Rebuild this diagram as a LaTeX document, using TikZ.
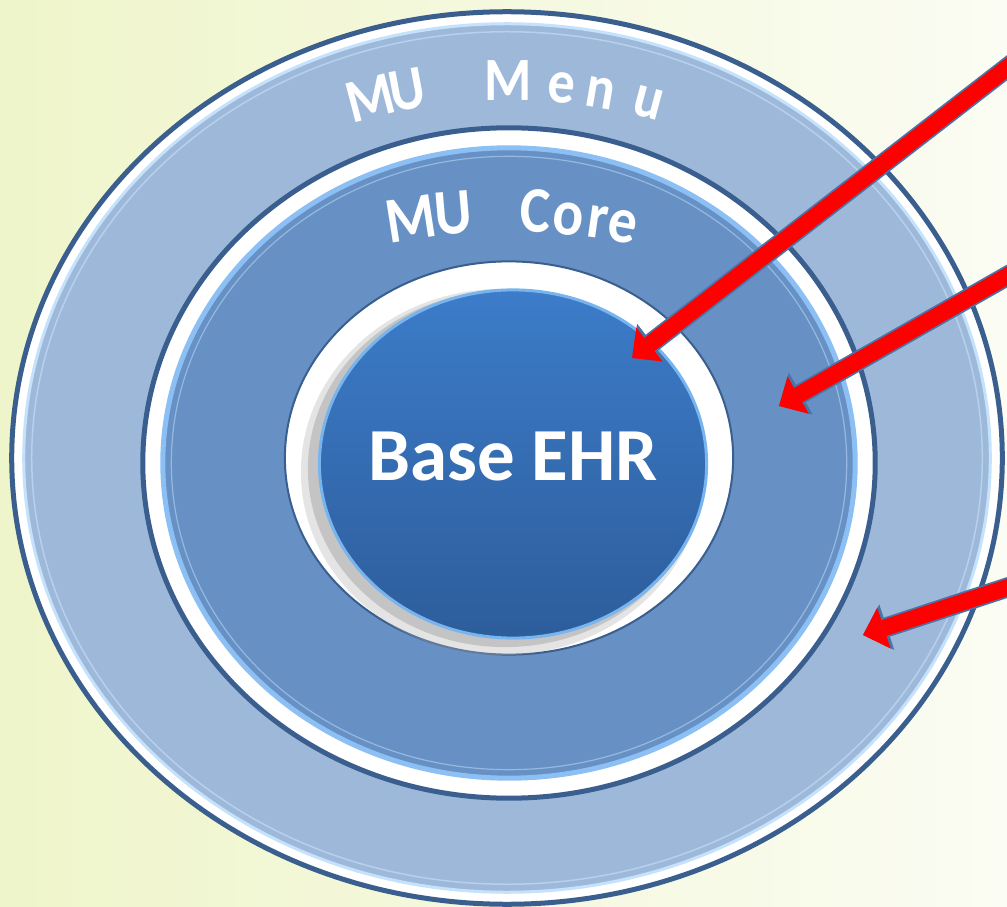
\documentclass[tikz,border=0pt]{standalone}
\usepackage{fontspec}
\setmainfont{Carlito}
\usetikzlibrary{shapes.geometric, arrows.meta, positioning}

\definecolor{ringedge}{RGB}{58,95,142}
\definecolor{menublue}{RGB}{158,184,218}
\definecolor{coreblue}{RGB}{103,145,196}
\definecolor{corerim}{RGB}{140,192,244}
\definecolor{basetop}{RGB}{60,124,201}
\definecolor{basebot}{RGB}{45,93,155}
\definecolor{baserim}{RGB}{120,180,238}
\definecolor{bevel}{RGB}{196,226,252}
\definecolor{arrowedge}{RGB}{74,116,168}
\definecolor{bgleft}{RGB}{239,245,202}
\definecolor{bgright}{RGB}{251,252,243}

\begin{document}
\begin{tikzpicture}[x=0.01cm, y=-0.01cm,
    ring/.style={ellipse, inner sep=0pt, outer sep=0pt},
    letter/.style={text=white, anchor=base, inner sep=0pt},
    pointer/.style={-{Triangle[length=2.5mm, width=4.8mm, line width=0pt]},
                    line width=2.0mm, draw=arrowedge},
    pointerfill/.style={-{Triangle[length=2.2mm, width=4.3mm, line width=0pt]},
                    line width=1.65mm, draw=red}]
  \useasboundingbox (0,0) rectangle (1007,907);
  \fill[left color=bgleft, right color=bgright] (0,0) rectangle (1007,907);

  % outer ring
  \node[ring, fill=white, draw=ringedge, line width=0.5mm,
        minimum width=9.9cm, minimum height=8.92cm] (menuRing) at (507,458) {};
  \node[ring, fill=menublue, draw=bevel, line width=0.3mm,
        minimum width=9.66cm, minimum height=8.68cm] (menuFill) at (507,458) {};
  \node[ring, draw=bevel!60!menublue, line width=0.15mm,
        minimum width=9.5cm, minimum height=8.52cm] (menuBevel) at (507,458) {};

  % middle ring
  \node[ring, fill=white, draw=ringedge, line width=0.5mm,
        minimum width=7.32cm, minimum height=6.7cm] (coreRing) at (509,463) {};
  \node[ring, fill=coreblue, draw=corerim, line width=0.5mm,
        minimum width=6.92cm, minimum height=6.3cm] (coreFill) at (509,463) {};
  \node[ring, draw=bevel!50!coreblue, line width=0.12mm,
        minimum width=6.75cm, minimum height=6.13cm] (coreBevel) at (509,463) {};

  % centre
  \node[ring, fill=white, draw=ringedge, line width=0.2mm,
        minimum width=4.48cm, minimum height=3.93cm] (baseRing) at (509,458) {};
  \node[ring, fill=black!30, opacity=0.35,
        minimum width=4.02cm, minimum height=3.66cm] (baseHalo) at (502,472) {};
  \node[ring, fill=black!35, opacity=0.5,
        minimum width=3.94cm, minimum height=3.56cm] (baseShadow) at (505,469) {};
  \node[ring, top color=basetop, bottom color=basebot, draw=baserim, line width=0.3mm,
        minimum width=3.87cm, minimum height=3.48cm] (baseDisc) at (513,464) {};
  \node[font=\bfseries\fontsize{21.3}{24}\selectfont, text=white] (baseLabel)
    at (513,456) {Base EHR};

  % curved labels
  \foreach \ch/\t [count=\i] in {M/107.7, U/102.9, M/90.1, e/83.3, n/78.3, u/72.0}
    \node[letter, font=\bfseries\fontsize{17.5}{17.5}\selectfont,
          rotate={atan2(-362*cos(\t), 440*sin(\t))}, xscale=0.88] (menu-\i)
      at ({509+440*cos(\t)}, {462-362*sin(\t)}) {\ch};
  \foreach \ch/\t [count=\i] in {M/104.5, U/98.2, C/86.2, o/81.2, r/76.9, e/73.0}
    \node[letter, font=\bfseries\fontsize{18.5}{18.5}\selectfont,
          rotate={atan2(-230*cos(\t), 380*sin(\t))}, xscale=0.88] (core-\i)
      at ({509+380*cos(\t)}, {462-230*sin(\t)}) {\ch};

  % pointers
  \coordinate (fromTop) at (1030,50);
  \coordinate (toBase) at (632,358);
  \coordinate (fromMid) at (1030,263);
  \coordinate (toCore) at (779,406);
  \coordinate (fromLow) at (1030,580);
  \coordinate (toMenu) at (863,635);
  \foreach \a/\b in {fromTop/toBase, fromMid/toCore, fromLow/toMenu} {
    \draw[pointer] (\a) -- (\b);
    \draw[pointerfill] (\a) -- (\b);
  }
\end{tikzpicture}
\end{document}
